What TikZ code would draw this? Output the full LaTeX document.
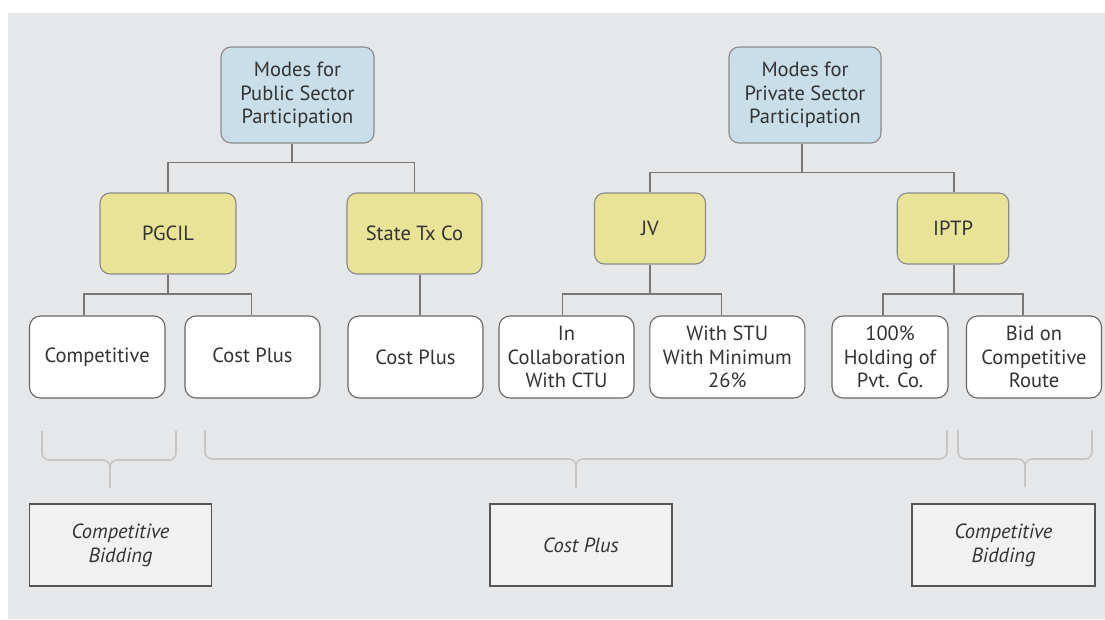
\documentclass[tikz,border=0pt]{standalone}
\usepackage{fontspec}
\setmainfont{PT Sans}
\definecolor{bg}{HTML}{E6E7E8}
\definecolor{topblue}{HTML}{C9DEE8}
\definecolor{ylw}{HTML}{E8E397}
\definecolor{boxline}{HTML}{8A8A8A}
\definecolor{wline}{HTML}{666666}
\definecolor{conncol}{HTML}{777777}
\definecolor{bracecol}{HTML}{C6C6C6}
\definecolor{botfill}{HTML}{F1F1F1}
\definecolor{botline}{HTML}{555555}
\definecolor{txt}{HTML}{333333}
\tikzset{
  base/.style={align=center, text=txt, inner sep=0pt, font=\fontsize{20.5}{23.8}\selectfont},
  topbox/.style={base, draw=boxline, fill=topblue, line width=1.1pt, rounded corners=10pt, minimum height=96pt},
  midbox/.style={base, draw=boxline, fill=ylw, line width=1.1pt, rounded corners=10pt},
  leafbox/.style={base, draw=wline, fill=white, line width=1.1pt, rounded corners=11pt, minimum height=82pt},
  resbox/.style={base, draw=botline, fill=botfill, line width=1.2pt, minimum height=82pt, font=\fontsize{20.5}{23.8}\selectfont\itshape},
  conn/.style={draw=conncol, line width=1.8pt},
  bracepath/.style={draw=bracecol, line width=1.6pt, rounded corners=7pt}
}
\begin{document}
\begin{tikzpicture}[x=1pt,y=-1pt]
\useasboundingbox (0,0) rectangle (1105,619);
\fill[bg] (8,13) rectangle (1105,619);

% top level
\node[topbox, minimum width=153pt] (pub) at (297.5,95) {Modes for\\Public Sector\\Participation};
\node[topbox, minimum width=152pt] (priv) at (805,95) {Modes for\\Private Sector\\Participation};

% second level
\node[midbox, minimum width=136pt, minimum height=81pt] (pgcil) at (168,233.5) {PGCIL};
\node[midbox, minimum width=135pt, minimum height=81pt] (state) at (414.5,233.5) {State Tx Co};
\node[midbox, minimum width=111pt, minimum height=71pt] (jv) at (650,228.5) {JV};
\node[midbox, minimum width=111.5pt, minimum height=71pt] (iptp) at (953,228.5) {IPTP};

% leaves
\node[leafbox, minimum width=135.5pt] (comp) at (97.25,357) {Competitive};
\node[leafbox, minimum width=135pt] (cp1) at (252.5,357) {\raisebox{4pt}{Cost Plus}};
\node[leafbox, minimum width=135pt] (cp2) at (415.5,357) {Cost Plus};
\node[leafbox, minimum width=135pt] (collab) at (566.5,357) {In\\Collaboration\\With CTU};
\node[leafbox, minimum width=155pt] (stu) at (727.3,357) {With STU\\With Minimum\\26\%};
\node[leafbox, minimum width=116pt] (hold) at (890,357) {100\%\\Holding of\\Pvt. Co.};
\node[leafbox, minimum width=135pt] (bid) at (1034,357) {Bid on\\Competitive\\Route};

% result boxes
\node[resbox, minimum width=182pt] (r1) at (120.5,545) {Competitive\\Bidding};
\node[resbox, minimum width=182pt] (r2) at (581,545) {Cost Plus};
\node[resbox, minimum width=183pt] (r3) at (1003.5,545) {Competitive\\Bidding};

% connectors
\draw[conn] ([xshift=-5.5pt]pub.south) -- ++(0,19) -| (pgcil.north);
\draw[conn] ([xshift=-5.5pt]pub.south) ++(0,19) -| (state.north);
\draw[conn] ([xshift=-3pt]priv.south) -- ++(0,29) -| (jv.north);
\draw[conn] ([xshift=-3pt]priv.south) ++(0,29) -| ([xshift=1pt]iptp.north);

\draw[conn] (pgcil.south) -- ++(0,19.5) -| ([xshift=-13.25pt]comp.north);
\draw[conn] (pgcil.south) ++(0,19.5) -| ([xshift=-1.1pt]cp1.north);
\draw[conn] ([xshift=5.5pt]state.south) -- ([xshift=4.5pt]cp2.north);
\draw[conn] (jv.south) -- ++(0,29.5) -| ([xshift=-4pt]collab.north);
\draw[conn] (jv.south) ++(0,29.5) -| ([xshift=-5.8pt]stu.north);
\draw[conn] ([xshift=1pt]iptp.south) -- ++(0,29.5) -| ([xshift=-7pt]hold.north);
\draw[conn] ([xshift=1pt]iptp.south) ++(0,29.5) -| ([xshift=-11pt]bid.north);

% braces
\draw[bracepath] (42,431) -- (42,460) -- (110,460) -- (110,488);
\draw[bracepath] (176,431) -- (176,460) -- (110,460) -- (110,488);
\draw[bracepath] (205,430) -- (205,459) -- (576,459) -- (576,488);
\draw[bracepath] (947,430) -- (947,459) -- (576,459) -- (576,488);
\draw[bracepath] (958,430) -- (958,459) -- (1025,459) -- (1025,487);
\draw[bracepath] (1092,430) -- (1092,459) -- (1025,459) -- (1025,487);
\end{tikzpicture}
\end{document}
